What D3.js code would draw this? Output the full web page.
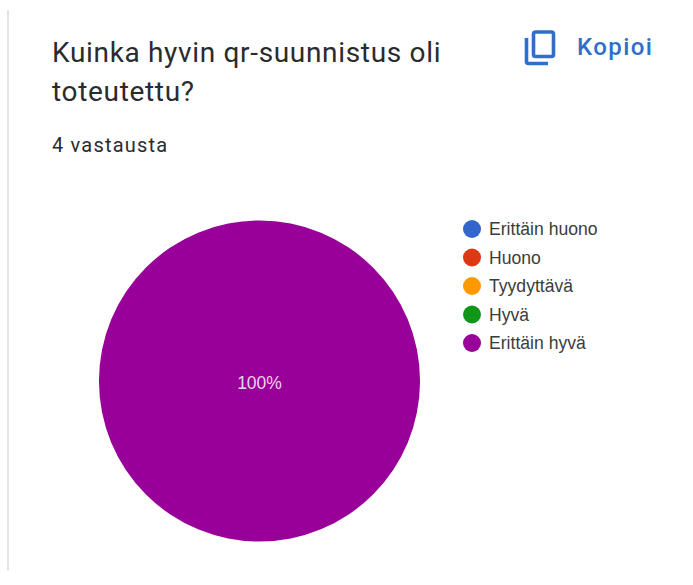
<!DOCTYPE html>
<html><head><meta charset="utf-8">
<script src="https://cdn.jsdelivr.net/npm/d3@7/dist/d3.min.js"></script>
<style>html,body{margin:0;padding:0;background:#fff}svg{display:block}</style></head>
<body><script>
const categories=["Erittäin huono","Huono","Tyydyttävä","Hyvä","Erittäin hyvä"];
const values=[0,0,0,0,4];
const colors=["#3366cc","#dc3912","#ff9900","#109618","#990099"];
const titleLines=["Kuinka hyvin qr-suunnistus oli","toteutettu?"];
const subtitle="4 vastausta";
const copyLabel="Kopioi";
const font="Roboto, sans-serif";
const svg=d3.select("body").append("svg").attr("width",693).attr("height",585);
svg.append("rect").attr("x",7).attr("y",10).attr("width",2).attr("height",560).attr("fill","#e3e3e3");
svg.selectAll(".t").data(titleLines).join("text").attr("class","t")
 .attr("x",52).attr("y",(d,i)=>62+i*39).attr("font-family",font).attr("font-size",28).attr("letter-spacing",0.67).attr("fill","#2a2b2e").text(d=>d);
svg.append("text").attr("x",52).attr("y",152).attr("font-family",font).attr("font-size",20).attr("letter-spacing",1.2).attr("fill","#2a2b2e").text(subtitle);
// copy icon
const ic=svg.append("g").attr("fill","none").attr("stroke","#2f6fc9").attr("stroke-width",3.6);
ic.append("rect").attr("x",533.5).attr("y",32).attr("width",20).attr("height",24.5).attr("rx",2);
ic.append("path").attr("d","M526.5 38V62a1.5 1.5 0 0 0 1.5 1.5H548");
svg.append("text").attr("x",577).attr("y",55).attr("font-family",font).attr("font-weight",500).attr("font-size",24).attr("letter-spacing",1.4).attr("fill","#2f6fc9").text(copyLabel);
// pie
const pie=d3.pie().sort(null)(values);
const arc=d3.arc().innerRadius(0).outerRadius(160.5);
const g=svg.append("g").attr("transform","translate(259.5,381)");
g.selectAll("path").data(pie.filter(d=>d.value>0)).join("path").attr("d",arc).attr("fill",d=>colors[d.index]);
const total=d3.sum(values);
g.selectAll("text").data(pie.filter(d=>d.value>0)).join("text").attr("text-anchor","middle").attr("y",8)
 .attr("font-family","'Liberation Sans', Arial, sans-serif").attr("font-size",17.5).attr("fill","#e9d5e9")
 .text(d=>d3.format(".0%")(d.value/total));
// legend
const ly=d3.scalePoint().domain(categories).range([229,343]);
const lg=svg.selectAll(".l").data(categories).join("g").attr("class","l").attr("transform",d=>`translate(0,${ly(d)})`);
lg.append("circle").attr("cx",472).attr("r",9).attr("fill",(d,i)=>colors[i]);
lg.append("text").attr("x",489).attr("y",6).attr("font-family","'Liberation Sans', Arial, sans-serif").attr("font-size",17.6).attr("fill","#3c3c3c").text(d=>d);
</script></body></html>
